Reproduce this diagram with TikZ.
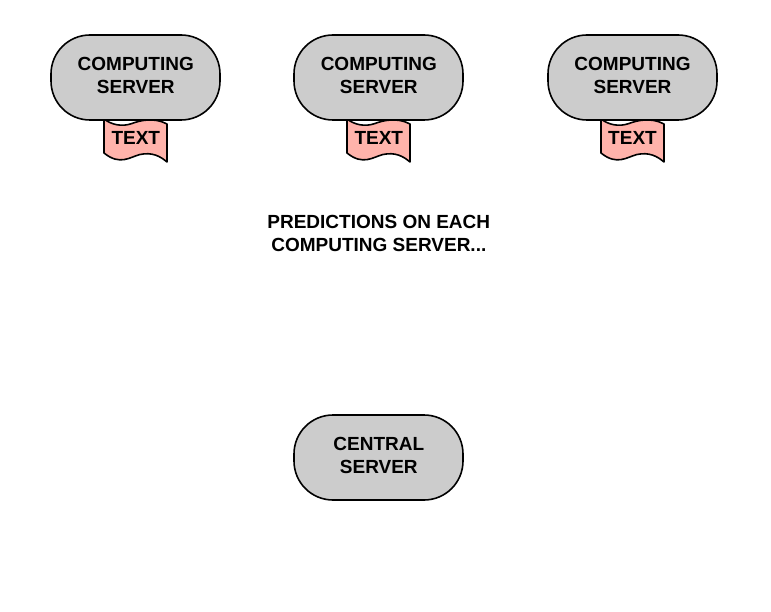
\documentclass[tikz,border=0pt]{standalone}
\usepackage{fontspec}
\setmainfont{Liberation Sans}
\definecolor{srvfill}{HTML}{CCCCCC}
\definecolor{docfill}{HTML}{FFB3AB}
\tikzset{
  x=1pt,y=-1pt,
  srv/.style={draw=black,fill=srvfill,line width=1.6pt,rounded corners=39pt,minimum width=169pt,minimum height=85pt,inner sep=0pt},
  lbl/.style={font=\fontsize{19}{23}\selectfont\bfseries,align=center,inner sep=0pt},
  docshape/.style={draw=black,fill=docfill,line width=1.6pt,line join=round}
}
\newcommand{\docat}[1]{%
  \draw[docshape,shift={(#1,0)}] (-32,119) .. controls (-24,125) and (-14,127) .. (-4,123.5)
    .. controls (4,120.5) and (18,117) .. (31,124) -- (31,162)
    .. controls (24,156) and (16,152) .. (4,154.5)
    .. controls (-6,157) and (-16,166) .. (-32,153) -- cycle;}
\begin{document}
\begin{tikzpicture}
\useasboundingbox (0,0) rectangle (771,612);
\docat{136}\docat{379}\docat{633}
\node[srv] (s1) at (135.5,77.5) {};
\node[srv] (s2) at (378.5,77.5) {};
\node[srv] (s3) at (632.5,77.5) {};
\node[lbl] (s1t) at (135.8,75) {COMPUTING\\SERVER};
\node[lbl] (s2t) at (378.8,75) {COMPUTING\\SERVER};
\node[lbl] (s3t) at (632.5,75) {COMPUTING\\SERVER};
\node[lbl] (t1) at (135.8,138) {TEXT};
\node[lbl] (t2) at (378.8,138) {TEXT};
\node[lbl] (t3) at (632.5,138) {TEXT};
\node[lbl] (cap) at (378.8,233.5) {PREDICTIONS ON EACH\\COMPUTING SERVER...};
\node[srv] (c) at (378.5,457.5) {};
\node[lbl] (ct) at (378.8,455) {CENTRAL\\SERVER};
\end{tikzpicture}
\end{document}
